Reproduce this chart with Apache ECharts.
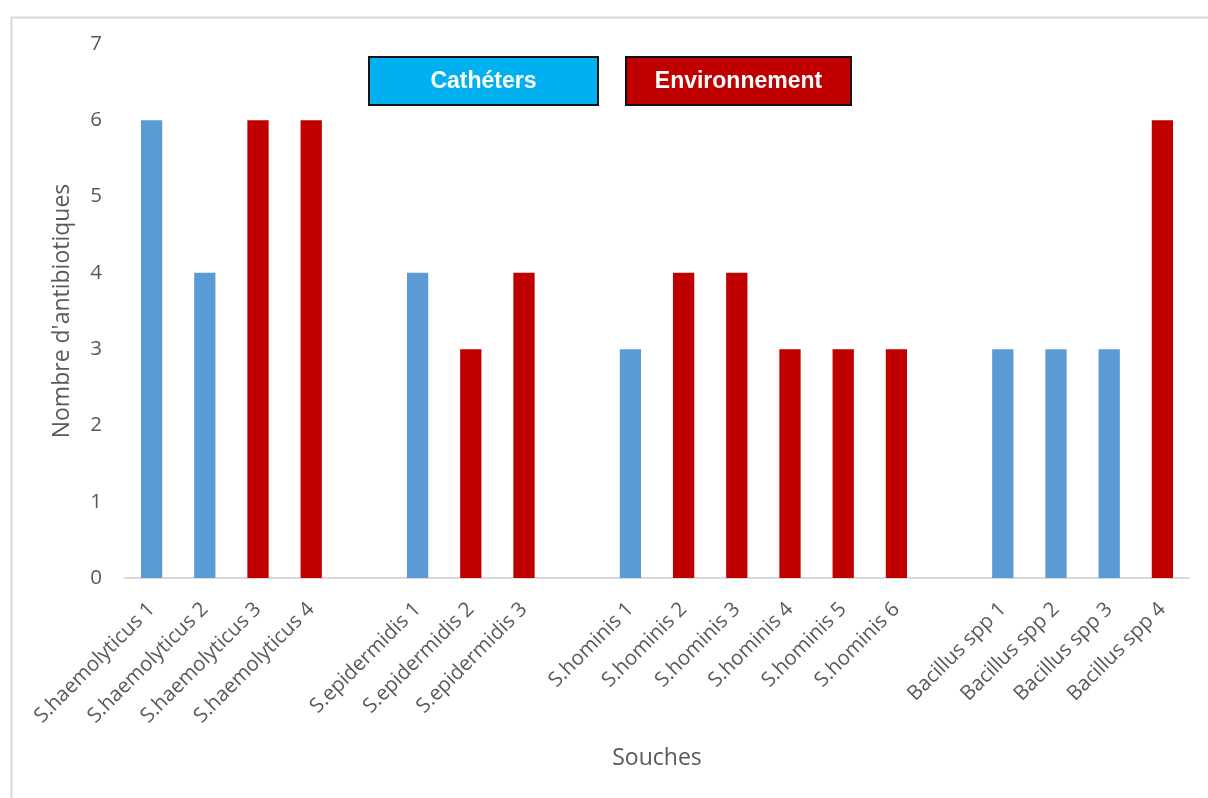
<!DOCTYPE html>
<html>
<head>
<meta charset="utf-8">
<script src="https://cdn.jsdelivr.net/npm/echarts@6/dist/echarts.min.js"></script>
<style>
  html, body { margin: 0; padding: 0; background: #fff; }
  #chart { width: 1208px; height: 798px; }
</style>
</head>
<body>
<div id="chart"></div>
<script>
// souches, with empty slots between groups
const souches = [
  'S.haemolyticus 1', 'S.haemolyticus 2', 'S.haemolyticus 3', 'S.haemolyticus 4', '',
  'S.epidermidis 1', 'S.epidermidis 2', 'S.epidermidis 3', '',
  'S.hominis 1', 'S.hominis 2', 'S.hominis 3', 'S.hominis 4', 'S.hominis 5', 'S.hominis 6', '',
  'Bacillus spp 1', 'Bacillus spp 2', 'Bacillus spp 3', 'Bacillus spp 4'
]
const nbAntibiotiques = [
  6, 4, 6, 6, null,
  4, 3, 4, null,
  3, 4, 4, 3, 3, 3, null,
  3, 3, 3, 6
]
// C = Cathéters, E = Environnement
const origine = [
  'C', 'C', 'E', 'E', null,
  'C', 'E', 'E', null,
  'C', 'E', 'E', 'E', 'E', 'E', null,
  'C', 'C', 'C', 'E'
]
const yTicks = [0, 1, 2, 3, 4, 5, 6, 7]

const barColors = { C: '#5B9BD5', E: '#C00000' }
const axisFont = '"Open Sans", sans-serif'

const chart = echarts.init(document.getElementById('chart'))

chart.setOption({
  animation: false,
  backgroundColor: '#fff',
  grid: { left: 125, right: 19, top: 44, bottom: 220 },
  xAxis: {
    type: 'category',
    data: souches,
    name: 'Souches',
    nameLocation: 'middle',
    nameGap: 169,
    nameTextStyle: { fontSize: 23, color: '#595959', fontFamily: axisFont },
    axisLine: { lineStyle: { color: '#d9d9d9', width: 2 } },
    axisTick: { show: false },
    axisLabel: {
      interval: 0,
      rotate: 45,
      margin: 28,
      fontSize: 20.5,
      color: '#595959',
      fontFamily: axisFont
    }
  },
  yAxis: {
    type: 'value',
    min: yTicks[0],
    max: yTicks[yTicks.length - 1],
    interval: 1,
    name: "Nombre d'antibiotiques",
    nameLocation: 'middle',
    nameGap: 51,
    nameTextStyle: { fontSize: 23, color: '#595959', fontFamily: axisFont },
    axisLine: { show: false },
    axisTick: { show: false },
    splitLine: { show: false },
    axisLabel: { fontSize: 20.5, color: '#595959', margin: 23, fontFamily: axisFont }
  },
  series: [{
    type: 'bar',
    barWidth: '40%',
    data: nbAntibiotiques.map((v, i) => ({
      value: v,
      itemStyle: { color: origine[i] ? barColors[origine[i]] : 'transparent' }
    }))
  }],
  graphic: [
    {
      type: 'rect',
      left: 9, top: 15,
      shape: { width: 1220, height: 800 },
      style: { fill: 'none', stroke: '#d9d9d9', lineWidth: 2 },
      silent: true
    },
    {
      type: 'group',
      left: 368, top: 56,
      children: [
        {
          type: 'rect',
          shape: { width: 229, height: 48 },
          style: { fill: '#00B0F0', stroke: '#111', lineWidth: 2 }
        },
        {
          type: 'text',
          x: 114.5, y: 25,
          style: {
            text: 'Cathéters',
            fill: '#fff',
            font: 'bold 23px "Liberation Sans", Arial, sans-serif',
            align: 'center',
            verticalAlign: 'middle'
          }
        }
      ]
    },
    {
      type: 'group',
      left: 625, top: 56,
      children: [
        {
          type: 'rect',
          shape: { width: 225, height: 48 },
          style: { fill: '#C00000', stroke: '#111', lineWidth: 2 }
        },
        {
          type: 'text',
          x: 112.5, y: 25,
          style: {
            text: 'Environnement',
            fill: '#fff',
            font: 'bold 23px "Liberation Sans", Arial, sans-serif',
            align: 'center',
            verticalAlign: 'middle'
          }
        }
      ]
    }
  ]
})
</script>
</body>
</html>
